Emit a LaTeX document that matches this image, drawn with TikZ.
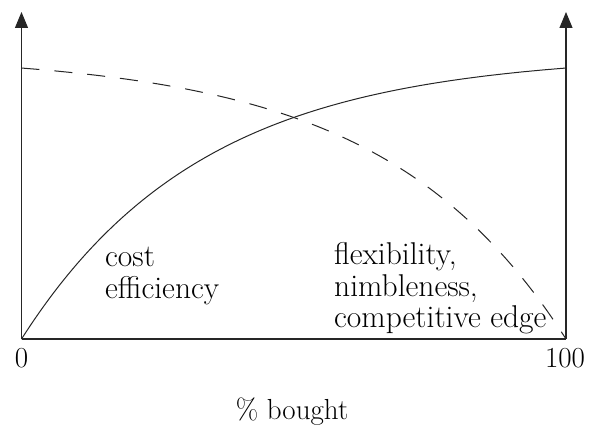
\documentclass[tikz,border=0pt]{standalone}
\usepackage{fontspec}
\usetikzlibrary{arrows.meta}
\begin{document}
\begin{tikzpicture}[x=1pt,y=-1pt,
  axis/.style={line width=1.1pt,draw=black!85,-{Triangle[length=16pt,width=13pt]}},
  base/.style={line width=1.1pt,draw=black!85},
  curve/.style={line width=1pt,draw=black!85},
  dashcurve/.style={curve,dash pattern=on 18pt off 15pt},
  lbl/.style={inner sep=0pt,font=\fontsize{29}{32}\selectfont},
  area/.style={inner sep=0pt,anchor=base west,font=\fontsize{31.5}{34}\selectfont}]
\useasboundingbox (0,0) rectangle (589,428);
\coordinate (o) at (21.5,339);
\coordinate (r) at (566,339);
\coordinate (lt) at (21.5,12);
\coordinate (rt) at (566,12);
\draw[base] (o) -- (r);
\draw[axis] (o) -- (lt);
\draw[axis] (r) -- (rt);
\draw[curve] plot[domain=0:1,samples=120] ({21.5+544.5*\x},{339-271*(1-exp(-3*\x))/(1-exp(-3))});
\draw[dashcurve] plot[domain=0:1,samples=120] ({21.5+544.5*\x},{339-271*(1-exp(-3*(1-\x)))/(1-exp(-3))});
\node[lbl,anchor=base] (zero) at (21.5,367) {0};
\node[lbl,anchor=base] (hundred) at (565,367) {100};
\node[lbl,anchor=base] (xlabel) at (292,419) {\% bought};
\node[area] (cost1) at (105,266) {cost};
\node[area] (cost2) at (105,298) {efficiency};
\node[area] (flex1) at (334,264) {flexibility,};
\node[area] (flex2) at (334,296) {nimbleness,};
\node[area] (flex3) at (334,327) {competitive edge};
\end{tikzpicture}
\end{document}
